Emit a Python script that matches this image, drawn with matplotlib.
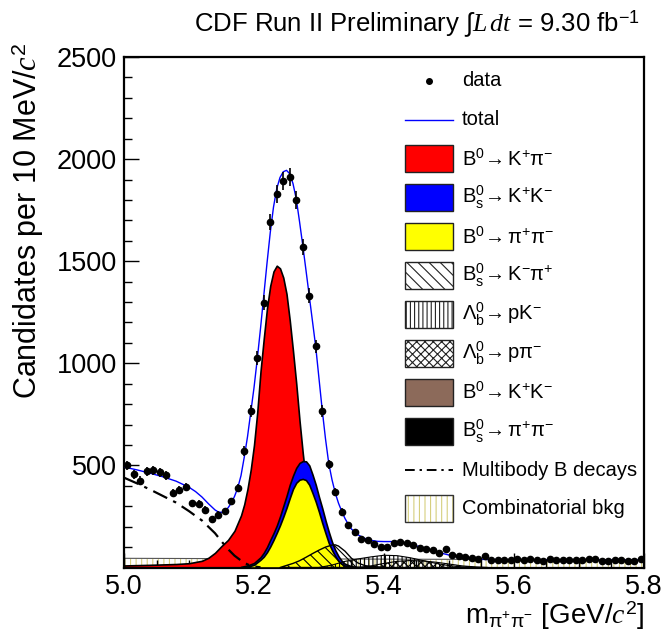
import numpy as np
import matplotlib
matplotlib.use('Agg')
import matplotlib.pyplot as plt
from matplotlib.patches import Rectangle
from matplotlib.lines import Line2D

# ---- data ----
bin_centers = np.round(np.arange(80) * 0.01 + 5.005, 3)
counts = [501, 456, 426, 472, 477, 467, 452, 366, 378, 393,
          314, 313, 283, 237, 259, 277, 324, 388, 570, 766,
          1026, 1297, 1692, 1830, 1893, 1912, 1799, 1570, 1331, 1083,
          766, 506, 369, 273, 210, 173, 142, 134, 117, 101,
          102, 121, 127, 118, 109, 97, 91, 85, 70, 89,
          60, 57, 50, 47, 42, 57, 37, 37, 37, 37,
          40, 37, 43, 37, 33, 42, 37, 37, 35, 35,
          37, 40, 43, 33, 31, 37, 37, 32, 33, 43]

total_x = [5.00, 5.02, 5.04, 5.06, 5.08, 5.10, 5.11, 5.12, 5.13, 5.14, 5.145, 5.15,
           5.155, 5.16, 5.165, 5.17, 5.175, 5.18, 5.185, 5.19, 5.195, 5.20, 5.205,
           5.21, 5.215, 5.22, 5.225, 5.23, 5.235, 5.24, 5.245, 5.25, 5.255, 5.26,
           5.265, 5.27, 5.275, 5.28, 5.285, 5.29, 5.295, 5.30, 5.305, 5.31, 5.315,
           5.32, 5.325, 5.33, 5.335, 5.34, 5.345, 5.35, 5.36, 5.37, 5.38, 5.39,
           5.40, 5.41, 5.42, 5.43, 5.44, 5.45, 5.46, 5.47, 5.48, 5.49, 5.50, 5.51,
           5.52, 5.53, 5.54, 5.56, 5.60, 5.70, 5.80]
total_y = [492, 478, 462, 444, 423, 393, 372, 345, 312, 282, 272, 270,
           276, 292, 315, 348, 390, 450, 540, 640, 760, 880, 1020,
           1170, 1330, 1490, 1640, 1765, 1855, 1910, 1938, 1945, 1928, 1880,
           1805, 1695, 1578, 1455, 1330, 1205, 1080, 925, 770, 630, 510,
           430, 365, 315, 275, 240, 212, 188, 160, 143, 133, 128,
           127, 127, 126, 122, 115, 106, 97, 88, 78, 69, 61, 54,
           48, 44, 41, 39, 38, 37, 36]

kpi_x = [5.00, 5.04, 5.08, 5.10, 5.12, 5.13, 5.14, 5.15, 5.16, 5.17, 5.18, 5.185,
         5.19, 5.195, 5.20, 5.205, 5.21, 5.215, 5.22, 5.225, 5.23, 5.235, 5.24,
         5.245, 5.25, 5.255, 5.26, 5.265, 5.27, 5.275, 5.28, 5.285, 5.29, 5.30,
         5.31, 5.32, 5.33, 5.35]
kpi_y = [10, 13, 17, 21, 33, 48, 72, 105, 135, 180, 255, 310,
         385, 480, 600, 760, 960, 1120, 1270, 1380, 1450, 1478, 1465,
         1420, 1340, 1210, 1060, 900, 720, 560, 420, 300, 210, 95,
         40, 15, 5, 0]

bskk_x = [5.18, 5.19, 5.20, 5.21, 5.215, 5.22, 5.225, 5.23, 5.235, 5.24, 5.245,
          5.25, 5.255, 5.26, 5.265, 5.27, 5.275, 5.28, 5.285, 5.29, 5.295, 5.30,
          5.305, 5.31, 5.315, 5.32, 5.325, 5.33, 5.335, 5.34, 5.35, 5.36, 5.37]
bskk_y = [3, 10, 22, 50, 72, 100, 135, 168, 205, 250, 300,
          350, 405, 450, 488, 512, 521, 520, 500, 455, 405, 345,
          290, 230, 175, 125, 85, 55, 32, 18, 6, 2, 0]

pipi_x = [5.19, 5.20, 5.21, 5.215, 5.22, 5.225, 5.23, 5.235, 5.24, 5.245, 5.25,
          5.255, 5.26, 5.265, 5.27, 5.275, 5.28, 5.285, 5.29, 5.295, 5.30, 5.305,
          5.31, 5.315, 5.32, 5.325, 5.33, 5.335, 5.34, 5.35, 5.36]
pipi_y = [4, 13, 38, 53, 75, 103, 135, 170, 207, 248, 292,
          340, 385, 415, 430, 434, 428, 405, 365, 322, 272, 218,
          168, 120, 85, 55, 31, 17, 9, 3, 0]

bskpi_x = [5.24, 5.25, 5.26, 5.27, 5.28, 5.29, 5.30, 5.31, 5.32, 5.325, 5.33,
           5.34, 5.35, 5.36, 5.37, 5.38, 5.40]
bskpi_y = [0, 10, 20, 33, 50, 68, 85, 100, 110, 111, 105, 80, 45, 22, 10, 4, 0]

lbpk_x = [5.30, 5.32, 5.34, 5.36, 5.38, 5.40, 5.42, 5.44, 5.46, 5.48, 5.50, 5.52, 5.54]
lbpk_y = [0, 12, 30, 42, 52, 60, 58, 48, 34, 20, 9, 3, 0]

lbppi_x = [5.36, 5.38, 5.40, 5.42, 5.44, 5.46, 5.48, 5.50, 5.52, 5.54, 5.56]
lbppi_y = [0, 8, 20, 30, 34, 32, 26, 17, 8, 3, 0]

comb_x = [5.0, 5.2, 5.4, 5.6, 5.8]
comb_y = [45, 43, 41, 39, 36]

multibody_x = [5.00, 5.02, 5.04, 5.06, 5.08, 5.10, 5.12, 5.14, 5.15, 5.16, 5.17,
               5.18, 5.19, 5.20, 5.21]
multibody_y = [440, 412, 382, 350, 318, 276, 230, 168, 128, 90, 58, 34, 15, 5, 1]

x_ticks = [5.0, 5.2, 5.4, 5.6, 5.8]
x_tick_labels = ['5.0', '5.2', '5.4', '5.6', '5.8']
y_ticks = [500, 1000, 1500, 2000, 2500]
y_tick_labels = ['500', '1000', '1500', '2000', '2500']

legend_labels = ['data', 'total',
                 r'$\mathrm{B^{0}\!\rightarrow K^{+}\pi^{-}}$',
                 r'$\mathrm{B^{0}_{s}\!\rightarrow K^{+}K^{-}}$',
                 r'$\mathrm{B^{0}\!\rightarrow \pi^{+}\pi^{-}}$',
                 r'$\mathrm{B^{0}_{s}\!\rightarrow K^{-}\pi^{+}}$',
                 r'$\mathrm{\Lambda^{0}_{b}\!\rightarrow pK^{-}}$',
                 r'$\mathrm{\Lambda^{0}_{b}\!\rightarrow p\pi^{-}}$',
                 r'$\mathrm{B^{0}\!\rightarrow K^{+}K^{-}}$',
                 r'$\mathrm{B^{0}_{s}\!\rightarrow \pi^{+}\pi^{-}}$',
                 'Multibody B decays', 'Combinatorial bkg']

# ---- style ----
plt.rcParams['font.family'] = ['Liberation Sans', 'DejaVu Sans']
plt.rcParams['mathtext.fontset'] = 'custom'
plt.rcParams['mathtext.rm'] = 'Liberation Sans'
plt.rcParams['mathtext.it'] = 'Liberation Serif:italic'
plt.rcParams['mathtext.bf'] = 'Liberation Sans:bold'
plt.rcParams['hatch.linewidth'] = 0.8

W, H = 666, 637
fig = plt.figure(figsize=(W / 100, H / 100), dpi=100)
ax = fig.add_axes([124 / W, 1 - 567.5 / H, 520 / W, 510.5 / H])

comb_col = '#d6cf7e'
ax.fill_between(comb_x, comb_y, 0, facecolor='white', edgecolor=comb_col,
                hatch='|||', linewidth=0, zorder=1)
ax.plot(comb_x, comb_y, color='#555555', lw=0.8, zorder=1.1)

ax.fill_between(kpi_x, kpi_y, 0, facecolor='#ff0000', edgecolor='black', lw=1.2, zorder=2)
ax.fill_between(bskk_x, bskk_y, 0, facecolor='#0000ff', edgecolor='black', lw=1.2, zorder=3)
ax.fill_between(pipi_x, pipi_y, 0, facecolor='#ffff00', edgecolor='black', lw=1.2, zorder=4)
ax.fill_between(bskpi_x, bskpi_y, 0, facecolor='none', edgecolor='black',
                hatch='\\\\\\', lw=1.0, zorder=5)
ax.fill_between(lbpk_x, lbpk_y, 0, facecolor='none', edgecolor='black',
                hatch='||||', lw=0.8, zorder=5)
ax.fill_between(lbppi_x, lbppi_y, 0, facecolor='none', edgecolor='black',
                hatch='xxxx', lw=0.8, zorder=5)

ax.plot(multibody_x, multibody_y, color='black', lw=1.6,
        ls=(0, (7, 3, 1.5, 3)), zorder=6)
ax.plot(total_x, total_y, color='#0000ff', lw=1.0, zorder=7)

ax.errorbar(bin_centers, counts, yerr=np.sqrt(counts), xerr=0.005, fmt='o',
            color='black', ms=4.5, elinewidth=1.2, capsize=0, zorder=8)

ax.set_xlim(5.0, 5.8)
ax.set_ylim(0, 2500)
ax.set_xticks(x_ticks)
ax.set_xticklabels(x_tick_labels)
ax.set_xticks(np.arange(5.0, 5.801, 0.05), minor=True)
ax.set_yticks(y_ticks)
ax.set_yticklabels(y_tick_labels)
ax.set_yticks(np.arange(100, 2501, 100), minor=True)
ax.tick_params(which='both', direction='in', top=False, right=False)
ax.tick_params(which='major', length=11, width=1, labelsize=19.5, pad=5)
ax.tick_params(which='minor', length=5.5, width=1)
for s in ax.spines.values():
    s.set_linewidth(1.6)

fig.text(640 / W, 1 - 24 / H, r'CDF Run II Preliminary $\int L\,dt$ = 9.30 fb$^{-1}$',
         ha='right', va='center', fontsize=18.5)
fig.text(28 / W, 1 - 42 / H, r'Candidates per 10 MeV/$c^{2}$', rotation=90,
         ha='center', va='top', fontsize=22)
fig.text(644 / W, 1 - 624 / H, r'm$_{\mathrm{\pi^{+}\pi^{-}}}$ [GeV/$c^{2}$]',
         ha='right', va='baseline', fontsize=20)

# ---- legend, drawn by hand ----
boxes = [None, None,
         dict(fc='#ff0000'), dict(fc='#0000ff'), dict(fc='#ffff00'),
         dict(fc='none', hatch='\\\\\\'), dict(fc='none', hatch='||||'),
         dict(fc='none', hatch='xxxx'), dict(fc='#8c6a5a'), dict(fc='black'),
         None, 'comb']
for i, lab in enumerate(legend_labels):
    yc = 1 - (81 + 38.9 * i) / H
    x0, bw, bh = 405 / W, 48 / W, 27 / H
    if i == 0:
        fig.add_artist(Line2D([429 / W], [yc], marker='o', ms=4, color='black'))
    elif i == 1:
        fig.add_artist(Line2D([x0, x0 + bw], [yc, yc], color='#0000ff', lw=1))
    elif i == 10:
        fig.add_artist(Line2D([x0, x0 + bw], [yc, yc], color='black', lw=1.4,
                              ls=(0, (5, 2.5, 1.2, 2.5))))
    elif boxes[i] == 'comb':
        fig.add_artist(Rectangle((x0, yc - bh / 2), bw, bh, transform=fig.transFigure,
                                 facecolor='white', edgecolor=comb_col, hatch='|||', lw=0))
        fig.add_artist(Rectangle((x0, yc - bh / 2), bw, bh, transform=fig.transFigure,
                                 facecolor='none', edgecolor='#333333', lw=1))
    else:
        b = boxes[i]
        fig.add_artist(Rectangle((x0, yc - bh / 2), bw, bh, transform=fig.transFigure,
                                 facecolor=b['fc'], edgecolor='#222222',
                                 hatch=b.get('hatch'), lw=1))
    fig.text(462 / W, yc, lab, ha='left', va='center', fontsize=14.5)

fig.savefig('out.png', dpi=100)
